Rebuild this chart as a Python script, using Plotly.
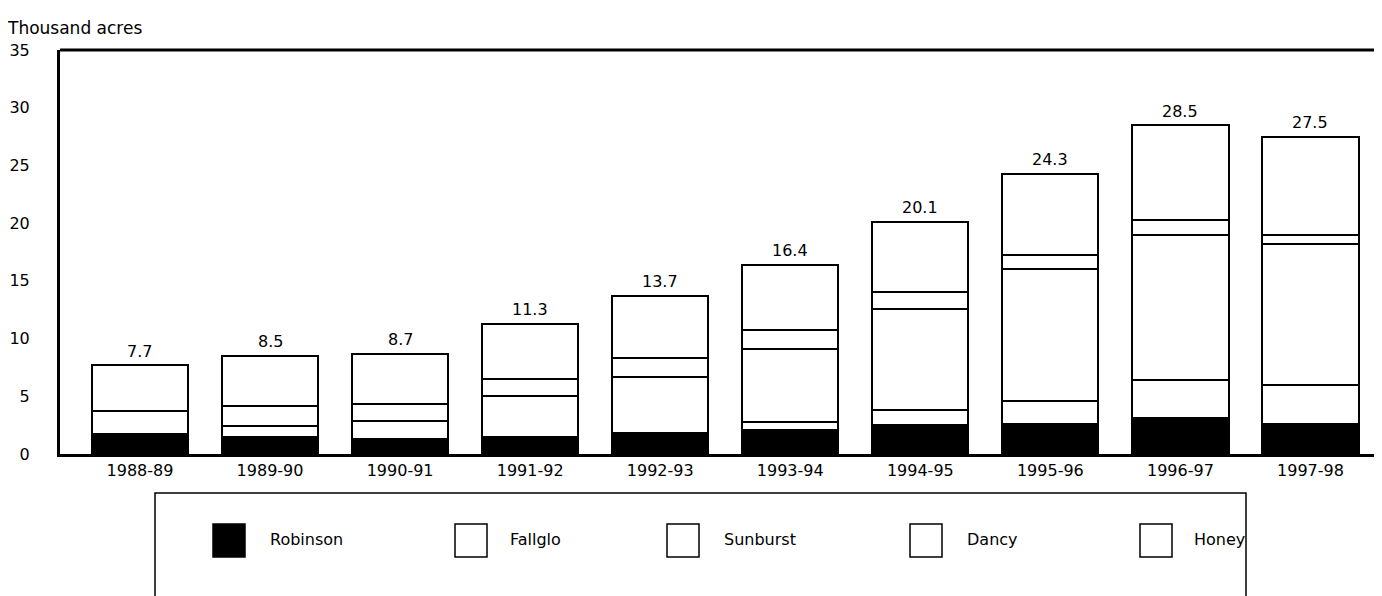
import plotly.graph_objects as go

seasons = ["1988-89", "1989-90", "1990-91", "1991-92", "1992-93",
           "1993-94", "1994-95", "1995-96", "1996-97", "1997-98"]
robinson = [1.7, 1.5, 1.3, 1.5, 1.8, 2.1, 2.5, 2.6, 3.1, 2.6]
fallglo = [0, 0, 0, 0, 0, 0.7, 1.3, 2.0, 3.3, 3.4]
sunburst = [0, 0.9, 1.6, 3.5, 4.9, 6.3, 8.8, 11.4, 12.6, 12.2]
dancy = [2.0, 1.8, 1.4, 1.5, 1.6, 1.6, 1.4, 1.2, 1.3, 0.8]
honey = [4.0, 4.3, 4.4, 4.8, 5.4, 5.7, 6.1, 7.1, 8.2, 8.5]
totals = [7.7, 8.5, 8.7, 11.3, 13.7, 16.4, 20.1, 24.3, 28.5, 27.5]
y_ticks = [0, 5, 10, 15, 20, 25, 30, 35]

series = [("Robinson", robinson, "black"), ("Fallglo", fallglo, "white"),
          ("Sunburst", sunburst, "white"), ("Dancy", dancy, "white"),
          ("Honey", honey, "white")]

FONT = "DejaVu Sans, Arial, sans-serif"
OFF = 8  # page body margin
PAGE_W, PAGE_H = 1382, 596
W, H = PAGE_W - OFF, PAGE_H - OFF
# plot area in page pixels
P_LEFT, P_RIGHT, P_TOP, P_BOT = 60, 1382, 50, 454
ML, MR = P_LEFT - OFF, PAGE_W - P_RIGHT
MT, MB = P_TOP - OFF, PAGE_H - P_BOT
PW, PH = P_RIGHT - P_LEFT, P_BOT - P_TOP

def px(x):
    return (x - P_LEFT) / PW

def py(y):
    return (P_BOT - y) / PH

fig = go.Figure()
for name, vals, color in series:
    fig.add_trace(go.Bar(x=seasons, y=vals, name=name, marker_color=color,
                         marker_line=dict(color="black", width=2),
                         showlegend=False))

shapes = []
annotations = []
for s, t in zip(seasons, totals):
    annotations.append(dict(x=s, y=t, xref="x", yref="y", text=f"{t:.1f}",
                            showarrow=False, yanchor="middle", yshift=14,
                            font=dict(size=16, color="black", family=FONT)))

# top border of plot
shapes.append(dict(type="line", xref="paper", yref="paper", x0=0, x1=1.01,
                   y0=1, y1=1, line=dict(color="black", width=3)))
# legend box
shapes.append(dict(type="rect", xref="paper", yref="paper",
                   x0=px(155), x1=px(1246), y0=py(493), y1=py(600),
                   line=dict(color="black", width=1.5), fillcolor="white"))
legend_items = [("Robinson", 213, 268, "black"), ("Fallglo", 455, 508, "white"),
                ("Sunburst", 667, 722, "white"), ("Dancy", 910, 965, "white"),
                ("Honey", 1140, 1192, "white")]
for name, sx, tx, col in legend_items:
    shapes.append(dict(type="rect", xref="paper", yref="paper",
                       x0=px(sx), x1=px(sx + 32), y0=py(524), y1=py(557),
                       line=dict(color="black", width=1.5), fillcolor=col))
    annotations.append(dict(xref="paper", yref="paper", x=px(tx), y=py(539),
                            text=name, showarrow=False, xanchor="left",
                            yanchor="middle",
                            font=dict(size=16, color="black", family=FONT)))

annotations.append(dict(xref="paper", yref="paper", x=px(5), y=py(28),
                        text="Thousand acres", showarrow=False,
                        xanchor="left", yanchor="middle",
                        font=dict(size=17, color="black", family=FONT)))

fig.update_layout(
    width=W, height=H,
    margin=dict(l=ML, r=MR, t=MT, b=MB, pad=0),
    barmode="stack", bargap=0.26,
    plot_bgcolor="white", paper_bgcolor="white",
    font=dict(family=FONT, size=16, color="black"),
    shapes=shapes, annotations=annotations,
    xaxis=dict(range=[-0.615, 9.55], showline=True, linecolor="black",
               linewidth=3, ticks="", showgrid=False,
               tickfont=dict(size=16, family=FONT)),
    yaxis=dict(range=[0, 35], tickvals=y_ticks, showline=True,
               linecolor="black", linewidth=3, ticks="", showgrid=False,
               zeroline=False, ticklabelstandoff=24,
               tickfont=dict(size=16, family=FONT)),
)

fig.write_html("out.html")
